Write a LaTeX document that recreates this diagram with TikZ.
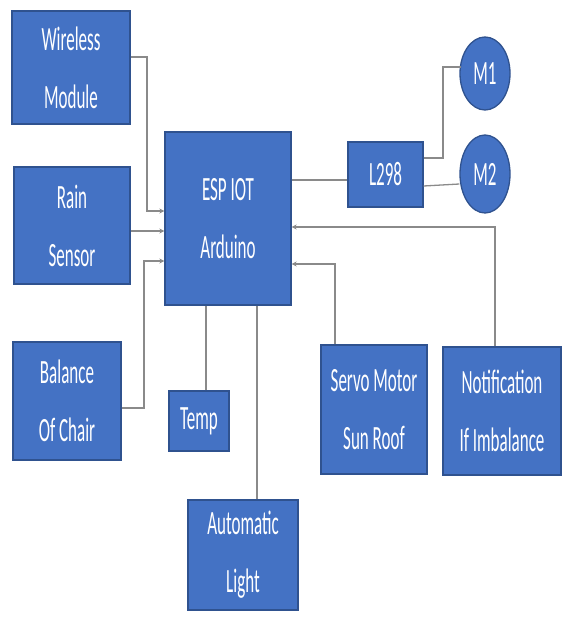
\documentclass[tikz,border=0pt]{standalone}
\usepackage{fontspec}
\newfontfamily\condfont[FakeStretch=0.5]{Carlito}
\usetikzlibrary{shapes.geometric,arrows.meta}
\definecolor{boxblue}{HTML}{4472C4}
\definecolor{boxedge}{HTML}{2F528F}
\definecolor{wire}{HTML}{8A8A8A}
\begin{document}
\begin{tikzpicture}[x=1pt,y=-1pt,
  blk/.style={draw=boxedge,line width=1.3pt,fill=boxblue,text=white,
    font=\condfont\fontsize{34}{58}\selectfont,align=center,inner sep=0pt},
  oval/.style={ellipse,draw=boxedge,line width=1.3pt,fill=boxblue,text=white,
    font=\condfont\fontsize{34}{40}\selectfont,inner sep=0pt},
  wln/.style={draw=wire,line width=1.3pt},
  arr/.style={wln,-{Stealth[length=5pt,width=5pt]}}]
\useasboundingbox (0,0) rectangle (562,620);
\node[blk,minimum width=118pt,minimum height=113pt] (wm) at (71,67.5) {Wireless\\Module};
\node[blk,minimum width=116pt,minimum height=117pt] (rs) at (72,225.5) {Rain\\Sensor};
\node[blk,minimum width=126pt,minimum height=173pt] (esp) at (228,218.5) {ESP IOT\\Arduino};
\node[blk,minimum width=108pt,minimum height=118pt] (bal) at (67,401) {Balance\\Of Chair};
\node[blk,minimum width=60pt,minimum height=60pt] (temp) at (199,421) {Temp};
\node[blk,minimum width=110pt,minimum height=110pt] (auto) at (243,555) {Automatic\\Light};
\node[blk,minimum width=75pt,minimum height=65pt] (l298) at (385.5,174.5) {L298};
\node[oval,minimum width=50pt,minimum height=73pt] (m1) at (485,73.5) {M1};
\node[oval,minimum width=50pt,minimum height=78pt] (m2) at (485,174) {M2};
\node[blk,minimum width=106pt,minimum height=129pt] (servo) at (374,409.5) {Servo Motor\\Sun Roof};
\node[blk,minimum width=118pt,minimum height=128pt] (notif) at (502,411) {Notification\\If Imbalance};
% inputs to ESP
\draw[arr] (wm.east |- 0,57) -- (147,57) -- (147,211) -- (esp.west |- 0,211);
\draw[arr] (rs.east |- 0,231) -- (esp.west |- 0,231);
\draw[arr] (bal.east |- 0,408) -- (144,408) -- (144,261) -- (esp.west |- 0,261);
\draw[wln] (temp.north -| 206,0) -- (esp.south -| 206,0);
\draw[wln] (auto.north -| 257,0) -- (esp.south -| 257,0);
\draw[wln] (esp.east |- 0,180) -- (l298.west |- 0,180);
\draw[wln] (l298.east |- 0,158) -- (443,158) -- (443,67) -- (461,67);
\draw[wln] (l298.east |- 0,186) -- (m2.west |- 0,184);
\draw[arr] (notif.north -| 495,0) -- (495,227) -- (esp.east |- 0,227);
\draw[arr] (servo.north -| 335,0) -- (335,264) -- (esp.east |- 0,264);
\end{tikzpicture}
\end{document}
